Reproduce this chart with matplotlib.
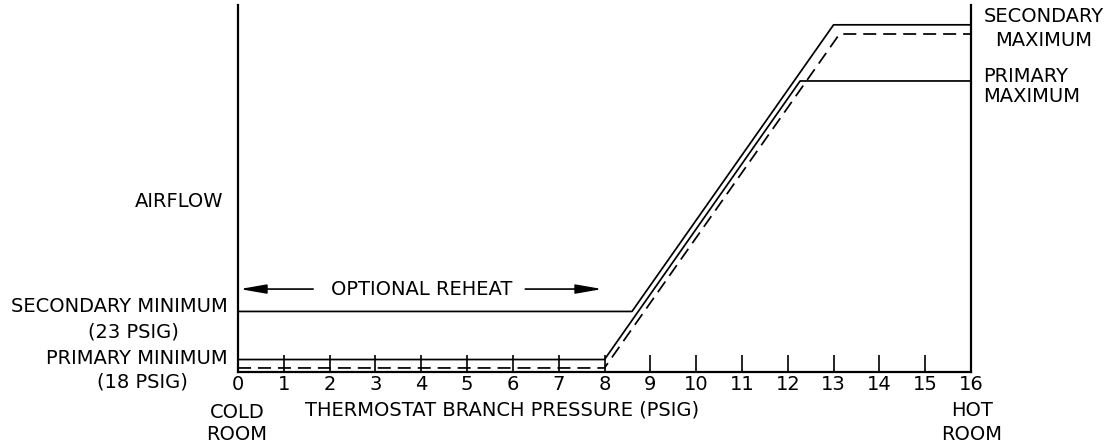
import matplotlib
matplotlib.use("Agg")
import matplotlib.pyplot as plt

W, H = 1113, 448

# branch pressure (psig) vs airflow (relative units, 0-100)
primary_x = [0, 8, 12.27, 16]
primary_y = [3.4, 3.4, 79.3, 79.3]

secondary_x = [0, 8.6, 13.0, 16]
secondary_y = [16.5, 16.5, 94.6, 94.6]

dashed_x = [0, 8, 13.13, 16]
dashed_y = [1.1, 1.1, 92.1, 92.1]

pressure_ticks = list(range(0, 17))
tick_labels = [str(t) for t in pressure_ticks]

reheat_start, reheat_end, reheat_level = 0.04, 7.95, 22.6


def px(x, y):
    # pixel coords (from top-left) -> figure fraction
    return x / W, 1 - y / H


plt.rcParams["font.family"] = "DejaVu Sans"
fs = 14

fig = plt.figure(figsize=(W / 100, H / 100), dpi=100)
x0, y0 = px(238, 372)
x1, y1 = px(971, 5)
ax = fig.add_axes([x0, y0, x1 - x0, y1 - y0])

ax.plot(secondary_x, secondary_y, color="black", lw=1.25)
ax.plot(primary_x, primary_y, color="black", lw=1.25)
ax.plot(dashed_x, dashed_y, color="black", lw=1.25, linestyle=(0, (7.5, 4)))

ax.set_xlim(0, 16)
ax.set_ylim(0, 100)
ax.spines["top"].set_visible(False)
for s in ["left", "bottom", "right"]:
    ax.spines[s].set_linewidth(1.6)

ax.set_xticks(pressure_ticks)
ax.set_xticklabels(tick_labels, fontsize=fs)
ax.tick_params(axis="x", direction="in", length=12.5, width=1.2, pad=2.5)
ax.set_yticks([])

# optional reheat arrows
arrow = dict(arrowstyle="-|>,head_length=1.6,head_width=0.28", lw=1.2,
             color="black", mutation_scale=10, shrinkA=0, shrinkB=0)
ax.annotate("", xy=(reheat_start, reheat_level), xytext=(1.64, reheat_level),
            arrowprops=arrow)
ax.annotate("", xy=(reheat_end, reheat_level), xytext=(6.27, reheat_level),
            arrowprops=arrow)
ax.text(4.0, reheat_level, "OPTIONAL REHEAT", ha="center", va="center", fontsize=fs)

# labels around the chart
def label(x, y, s, ha="center"):
    fx, fy = px(x, y)
    fig.text(fx, fy, s, ha=ha, va="center", fontsize=fs)


label(179, 201, "AIRFLOW")
label(228, 306, "SECONDARY MINIMUM", ha="right")
label(133, 332, "(23 PSIG)")
label(228, 358, "PRIMARY MINIMUM", ha="right")
label(142, 382, "(18 PSIG)")
label(237, 412, "COLD")
label(237, 434, "ROOM")
label(502, 410, "THERMOSTAT BRANCH PRESSURE (PSIG)")
label(972, 410, "HOT")
label(972, 434, "ROOM")
label(1044, 17, "SECONDARY")
label(1044, 40, "MAXIMUM")
label(983, 76, "PRIMARY", ha="left")
label(983, 96, "MAXIMUM", ha="left")

fig.savefig("out.png", dpi=100)
